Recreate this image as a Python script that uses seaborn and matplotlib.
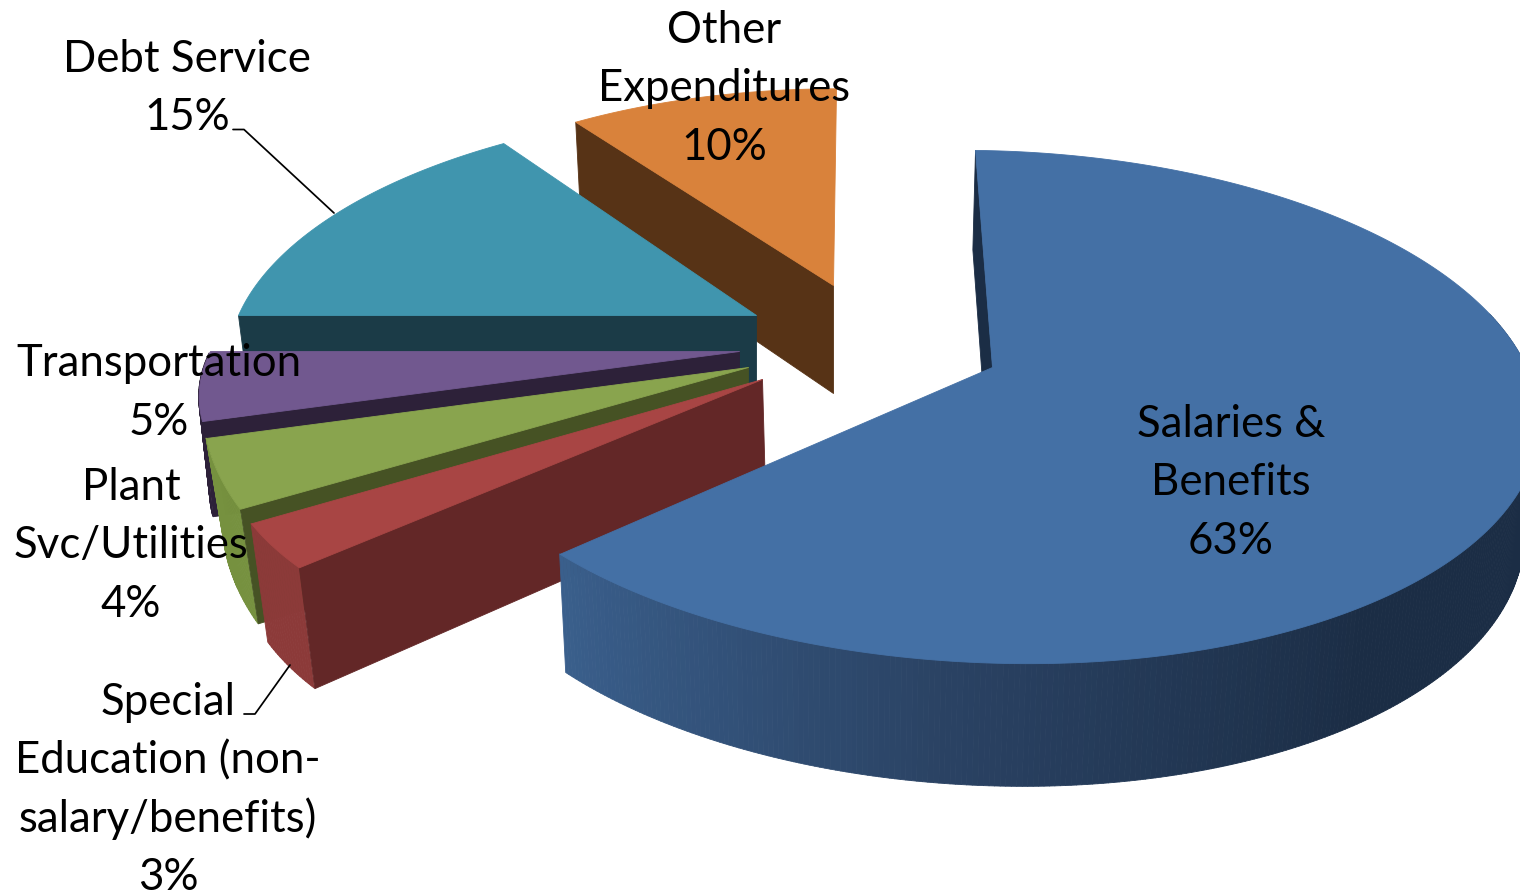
import numpy as np
import matplotlib
matplotlib.use("Agg")
import matplotlib.pyplot as plt
from matplotlib.collections import PolyCollection
import seaborn as sns

# Budget shares, clockwise from twelve o'clock
categories = ["Salaries &\nBenefits", "Special\nEducation (non-\nsalary/benefits)",
              "Plant\nSvc/Utilities", "Transportation", "Debt Service", "Other\nExpenditures"]
shares = [63, 3, 4, 5, 15, 10]

top_colors = ["#4470A5", "#A84544", "#89A44E", "#71588F", "#4095AE", "#D9823B"]
rim_colors = ["#1B2D45", "#8C3A39", "#76913F", "#2D2139", "#1B3B47", "#573316"]
cut_colors = ["#1B2D45", "#632727", "#465224", "#2D2139", "#1B3B47", "#573316"]

# Camera for each exploded slice: apex, plane matrix (left a, shear, skew, b),
# extrusion depth, inward taper of the base and sideways shift of the base.
# right_a widens or narrows the half of a slice to the right of its apex.
slice_camera = [
    dict(apex=(992, 367), m=(549, -19.6, -6, 250.5), right_a=537, depth=110, taper=.021, shift=-3),
    dict(apex=(762, 379), m=(528, 43, 2, 244), depth=112, taper=.027, shift=3),
    dict(apex=(748, 367), m=(533, 30, -16, 268), depth=108, taper=.035, shift=0),
    dict(apex=(739, 351), m=(529, 27, 0, 216), depth=92, taper=.02, shift=0),
    dict(apex=(756, 315), m=(518, 25, 0, 239), depth=108, taper=.027, shift=0),
    dict(apex=(833, 285), m=(498, 3.5, 0, 227), depth=108, taper=.02, shift=0),
]
PLANE_PERSPECTIVE = 0.154
DEPTH_PERSPECTIVE = 0.107

sns.set_theme(style="white")
plt.rcParams["font.family"] = ["Lato", "DejaVu Sans"]

fig = plt.figure(figsize=(15.2, 8.93), dpi=100, facecolor="white")
ax = fig.add_axes([0, 0, 1, 1])
ax.set_xlim(0, 1520)
ax.set_ylim(893, 0)
ax.axis("off")


def top_point(theta, cam):
    rad = np.radians(theta)
    u, v = np.cos(rad), np.sin(rad)
    a, shear, skew, b = cam["m"]
    a_side = np.where(u > 0, cam.get("right_a", a), a)
    s = 1 / (1 + PLANE_PERSPECTIVE * v)
    return np.column_stack([cam["apex"][0] + (a_side * u + shear * v) * s,
                            cam["apex"][1] - (b * v + skew * u) * s])


def base_point(theta, cam):
    rad = np.radians(theta)
    v = np.sin(rad)
    top = top_point(theta, cam)
    x0 = cam["apex"][0]
    return np.column_stack([x0 + cam["shift"] + (top[:, 0] - x0) * (1 - cam["taper"]),
                            top[:, 1] + cam["depth"] / (1 + DEPTH_PERSPECTIVE * v)])


def add_polys(polys, colors, z):
    ax.add_collection(PolyCollection(polys, facecolors=colors, edgecolors=colors,
                                     linewidths=0.6, zorder=z))


# Shaded sweep along the outside of the largest slice
rim_sweep = sns.blend_palette(["#3A5F8C", "#2A4263", "#1B2D45"], 90)

start = 90.0
for i, share in enumerate(shares):
    cam = slice_camera[i]
    end = start - share * 3.6
    # Later slices sit further back, so they are painted first
    z = 2 + (len(shares) - 1 - i) * 3
    arc = np.linspace(start, end, max(int(abs(end - start)) * 2, 8))
    top = top_point(arc, cam)
    base = base_point(arc, cam)

    # Outer wall, only along the near half of the rim
    limit = 0.25 if i == 0 else 0.0
    keep = np.sin(np.radians(arc)) <= limit
    quads, quad_colors = [], []
    for j in np.where(keep[:-1] & keep[1:])[0]:
        quads.append([top[j], top[j + 1], base[j + 1], base[j]])
        if i == 0:
            frac = np.clip((arc[j] - end) / 82, 0, 1)
            quad_colors.append(rim_sweep[int(frac * 89)])
        else:
            quad_colors.append(rim_colors[i])
    if quads:
        add_polys(quads, quad_colors, z)

    # Cut face running from the apex to the rim on the viewer's side
    cut_top = top_point(np.array([start]), cam)[0]
    cut_base = base_point(np.array([start]), cam)[0]
    apex_top = np.array(cam["apex"], dtype=float)
    apex_base = apex_top + (cam["shift"], cam["depth"])
    add_polys([[apex_top, cut_top, cut_base, apex_base]], [cut_colors[i]], z)

    # Upper face
    add_polys([np.vstack([apex_top, top])], [top_colors[i]], z + 1)
    start = end

# Data labels, one evenly spaced baseline per line
LINE_STEP = 58.4
label_anchor = [(1231, 437), (168, 715), (131, 500), (159, 376.5), (187, 71.5), (724, 43)]
for name, share, (x, y) in zip(categories, shares, label_anchor):
    for k, line in enumerate(f"{name}\n{share}%".split("\n")):
        ax.text(x, y + k * LINE_STEP, line, ha="center", va="baseline",
                fontsize=31.5, color="black", zorder=30)

# Leader lines
ax.plot([233, 244, 334], [129.5, 129.5, 213], color="black", lw=1.25, zorder=31)
ax.plot([244, 255, 290], [714, 714, 665], color="black", lw=1.25, zorder=31)

fig.savefig("out.png", dpi=100, facecolor="white")
